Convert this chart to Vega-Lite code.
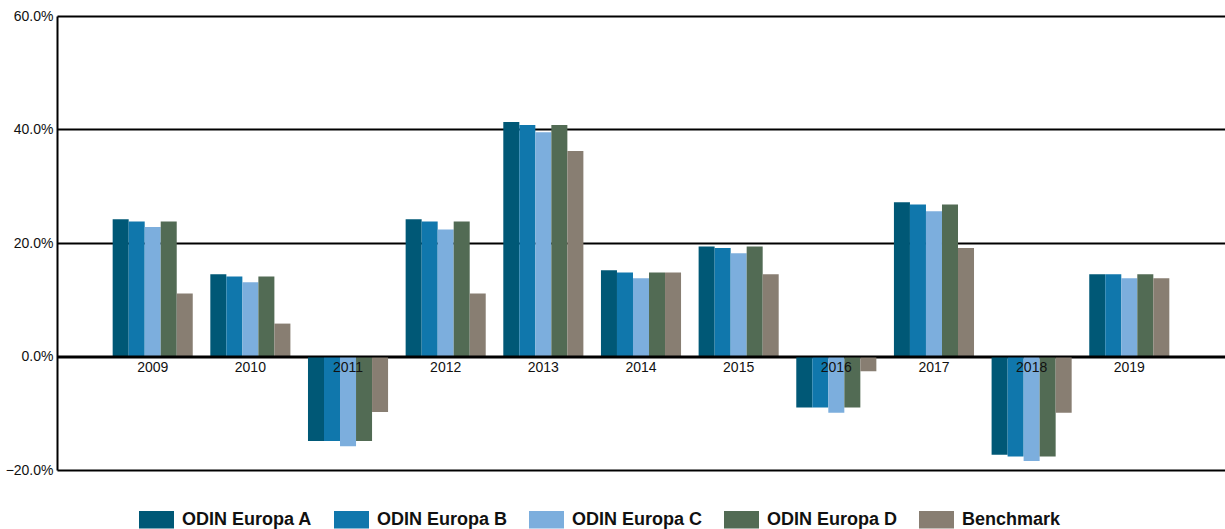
{
  "$schema": "https://vega.github.io/schema/vega-lite/v6.json",
  "width": 1168,
  "height": 454,
  "autosize": {"type": "none"},
  "padding": {"left": 57, "top": 16, "right": 0, "bottom": 59},
  "config": {"view": {"stroke": null}, "font": "Liberation Sans"},
  "data": {"values": [
    {"year": "2009", "series": "ODIN Europa A", "value": 0.242},
    {"year": "2009", "series": "ODIN Europa B", "value": 0.238},
    {"year": "2009", "series": "ODIN Europa C", "value": 0.228},
    {"year": "2009", "series": "ODIN Europa D", "value": 0.238},
    {"year": "2009", "series": "Benchmark", "value": 0.111},
    {"year": "2010", "series": "ODIN Europa A", "value": 0.145},
    {"year": "2010", "series": "ODIN Europa B", "value": 0.141},
    {"year": "2010", "series": "ODIN Europa C", "value": 0.131},
    {"year": "2010", "series": "ODIN Europa D", "value": 0.141},
    {"year": "2010", "series": "Benchmark", "value": 0.058},
    {"year": "2011", "series": "ODIN Europa A", "value": -0.149},
    {"year": "2011", "series": "ODIN Europa B", "value": -0.149},
    {"year": "2011", "series": "ODIN Europa C", "value": -0.158},
    {"year": "2011", "series": "ODIN Europa D", "value": -0.149},
    {"year": "2011", "series": "Benchmark", "value": -0.098},
    {"year": "2012", "series": "ODIN Europa A", "value": 0.242},
    {"year": "2012", "series": "ODIN Europa B", "value": 0.238},
    {"year": "2012", "series": "ODIN Europa C", "value": 0.224},
    {"year": "2012", "series": "ODIN Europa D", "value": 0.238},
    {"year": "2012", "series": "Benchmark", "value": 0.111},
    {"year": "2013", "series": "ODIN Europa A", "value": 0.413},
    {"year": "2013", "series": "ODIN Europa B", "value": 0.408},
    {"year": "2013", "series": "ODIN Europa C", "value": 0.395},
    {"year": "2013", "series": "ODIN Europa D", "value": 0.408},
    {"year": "2013", "series": "Benchmark", "value": 0.362},
    {"year": "2014", "series": "ODIN Europa A", "value": 0.152},
    {"year": "2014", "series": "ODIN Europa B", "value": 0.148},
    {"year": "2014", "series": "ODIN Europa C", "value": 0.138},
    {"year": "2014", "series": "ODIN Europa D", "value": 0.148},
    {"year": "2014", "series": "Benchmark", "value": 0.148},
    {"year": "2015", "series": "ODIN Europa A", "value": 0.194},
    {"year": "2015", "series": "ODIN Europa B", "value": 0.191},
    {"year": "2015", "series": "ODIN Europa C", "value": 0.182},
    {"year": "2015", "series": "ODIN Europa D", "value": 0.194},
    {"year": "2015", "series": "Benchmark", "value": 0.145},
    {"year": "2016", "series": "ODIN Europa A", "value": -0.090},
    {"year": "2016", "series": "ODIN Europa B", "value": -0.090},
    {"year": "2016", "series": "ODIN Europa C", "value": -0.099},
    {"year": "2016", "series": "ODIN Europa D", "value": -0.090},
    {"year": "2016", "series": "Benchmark", "value": -0.026},
    {"year": "2017", "series": "ODIN Europa A", "value": 0.272},
    {"year": "2017", "series": "ODIN Europa B", "value": 0.268},
    {"year": "2017", "series": "ODIN Europa C", "value": 0.256},
    {"year": "2017", "series": "ODIN Europa D", "value": 0.268},
    {"year": "2017", "series": "Benchmark", "value": 0.191},
    {"year": "2018", "series": "ODIN Europa A", "value": -0.173},
    {"year": "2018", "series": "ODIN Europa B", "value": -0.176},
    {"year": "2018", "series": "ODIN Europa C", "value": -0.184},
    {"year": "2018", "series": "ODIN Europa D", "value": -0.176},
    {"year": "2018", "series": "Benchmark", "value": -0.099},
    {"year": "2019", "series": "ODIN Europa A", "value": 0.145},
    {"year": "2019", "series": "ODIN Europa B", "value": 0.145},
    {"year": "2019", "series": "ODIN Europa C", "value": 0.138},
    {"year": "2019", "series": "ODIN Europa D", "value": 0.145},
    {"year": "2019", "series": "Benchmark", "value": 0.138}
  ]},
  "layer": [
    {
      "mark": {"type": "bar"},
      "encoding": {
        "x": {
          "field": "year", "type": "nominal",
          "scale": {"paddingInner": 0.18, "paddingOuter": 0.57},
          "axis": {
            "title": null, "orient": "bottom", "offset": -113.5,
            "domain": false, "ticks": false, "labelAngle": 0,
            "labelPadding": 4, "labelFontSize": 14, "labelColor": "#111111",
            "labelFont": "Liberation Sans", "zindex": 1, "grid": false
          }
        },
        "xOffset": {
          "field": "series", "type": "nominal",
          "sort": ["ODIN Europa A", "ODIN Europa B", "ODIN Europa C", "ODIN Europa D", "Benchmark"],
          "scale": {"paddingInner": 0, "paddingOuter": 0}
        },
        "y": {
          "field": "value", "type": "quantitative",
          "scale": {"domain": [-0.2, 0.6], "nice": false, "zero": false},
          "axis": {
            "title": null, "values": [-0.2, 0, 0.2, 0.4, 0.6], "format": ".1%",
            "grid": true, "gridColor": "#000000", "gridWidth": 2, "gridOpacity": 1,
            "domain": true, "domainColor": "#000000", "domainWidth": 2,
            "ticks": false, "labelPadding": 4, "labelFontSize": 14,
            "labelColor": "#111111", "labelFont": "Liberation Sans"
          }
        },
        "color": {
          "field": "series", "type": "nominal",
          "sort": ["ODIN Europa A", "ODIN Europa B", "ODIN Europa C", "ODIN Europa D", "Benchmark"],
          "scale": {
            "domain": ["ODIN Europa A", "ODIN Europa B", "ODIN Europa C", "ODIN Europa D", "Benchmark"],
            "range": ["#005876", "#1077AC", "#7CAEDD", "#526B54", "#887E72"]
          },
          "legend": {
            "title": null, "orient": "none", "legendX": 82, "legendY": 486,
            "direction": "horizontal", "columns": 5, "padding": 0,
            "symbolType": "M-1,-0.5H1V0.5H-1Z", "symbolSize": 1225,
            "symbolStrokeWidth": 0, "symbolOpacity": 1,
            "labelFont": "Liberation Sans", "labelFontSize": 18, "labelFontWeight": "bold",
            "labelColor": "#111111", "labelOffset": 8, "columnPadding": 21,
            "labelLimit": 300
          }
        }
      }
    },
    {
      "data": {"values": [{"z": 0}]},
      "mark": {"type": "rule", "color": "#000000", "strokeWidth": 2},
      "encoding": {"y": {"field": "z", "type": "quantitative"}}
    }
  ]
}
